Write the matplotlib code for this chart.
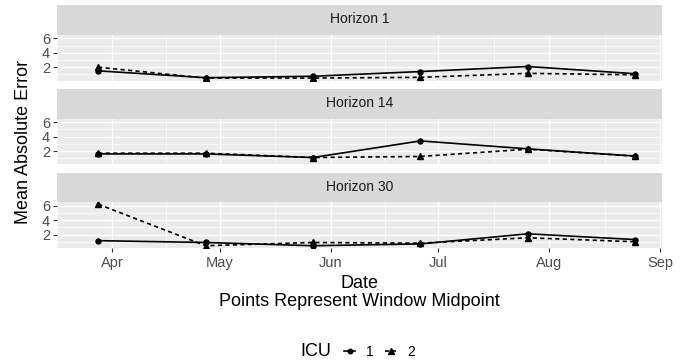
import matplotlib
matplotlib.use("Agg")
import matplotlib.pyplot as plt
import matplotlib.dates as mdates
import numpy as np
import datetime as dt

plt.rcParams['font.family'] = ['Liberation Sans', 'DejaVu Sans']

# ---- data ----
dates = ["2020-03-28", "2020-04-27", "2020-05-27", "2020-06-26", "2020-07-26", "2020-08-25"]
horizons = ["Horizon 1", "Horizon 14", "Horizon 30"]
icu1_h1 = [1.5, 0.55, 0.75, 1.4, 2.1, 1.1]
icu2_h1 = [2.0, 0.5, 0.5, 0.6, 1.15, 0.95]
icu1_h14 = [1.6, 1.6, 1.1, 3.4, 2.3, 1.3]
icu2_h14 = [1.7, 1.7, 1.1, 1.25, 2.25, 1.3]
icu1_h30 = [1.15, 0.9, 0.45, 0.7, 2.1, 1.3]
icu2_h30 = [6.2, 0.45, 0.9, 0.8, 1.55, 1.0]
icu_labels = ["1", "2"]
y_ticks = [2, 4, 6]

series = [(icu1_h1, icu2_h1), (icu1_h14, icu2_h14), (icu1_h30, icu2_h30)]
x = [dt.datetime.strptime(d, "%Y-%m-%d") for d in dates]

W, H = 686, 364
fig = plt.figure(figsize=(W / 100, H / 100), dpi=100)
fig.patch.set_facecolor("white")

def fr(x0, y0, x1, y1):
    return [x0 / W, 1 - y1 / H, (x1 - x0) / W, (y1 - y0) / H]

# shared limits (ggplot 5% expansion)
allv = np.concatenate([np.array(s) for pair in series for s in pair])
ymin, ymax = allv.min(), allv.max()
yr = ymax - ymin
ylim = (ymin - 0.05 * yr, ymax + 0.05 * yr)
xn = mdates.date2num(x)
xr = xn.max() - xn.min()
xlim = (xn.min() - 0.05 * xr, xn.max() + 0.05 * xr)

panel_left, panel_right = 57, 662
panel_tops = [34.8, 118.6, 202.1]
panel_h = 45.7
strip_h = 29.5

major_months = mdates.MonthLocator()
minor_dates = []
months = [dt.datetime(2020, m, 1) for m in range(3, 10)]
for a, b in zip(months[:-1], months[1:]):
    minor_dates.append(mdates.date2num(a) + (mdates.date2num(b) - mdates.date2num(a)) / 2)

lines_for_legend = None
for i, (name, (s1, s2)) in enumerate(zip(horizons, series)):
    top = panel_tops[i]
    # strip
    sax = fig.add_axes(fr(panel_left, top - strip_h, panel_right, top))
    sax.set_facecolor("#D9D9D9")
    sax.set_xticks([]); sax.set_yticks([])
    for sp in sax.spines.values():
        sp.set_visible(False)
    sax.text(0.5, 0.52, name, ha="center", va="center", fontsize=10, color="#1A1A1A",
             transform=sax.transAxes)

    ax = fig.add_axes(fr(panel_left, top, panel_right, top + panel_h))
    ax.set_facecolor("#EBEBEB")
    for sp in ax.spines.values():
        sp.set_visible(False)
    ax.set_xlim(xlim)
    ax.set_ylim(ylim)
    ax.set_yticks(y_ticks)
    ax.set_yticks([1, 3, 5], minor=True)
    ax.xaxis.set_major_locator(major_months)
    ax.xaxis.set_major_formatter(mdates.DateFormatter("%b"))
    ax.set_xticks(minor_dates, minor=True)
    ax.grid(which="major", color="white", linewidth=1.0)
    ax.grid(which="minor", color="white", linewidth=0.5)
    ax.set_axisbelow(True)
    ax.tick_params(axis="y", which="major", length=3, width=0.8, color="#333333",
                   labelsize=10.5, labelcolor="#4D4D4D", pad=2)
    ax.tick_params(axis="both", which="minor", length=0)
    if i < 2:
        ax.tick_params(axis="x", which="major", length=0, labelbottom=False)
    else:
        ax.tick_params(axis="x", which="major", length=3, width=0.8, color="#333333",
                       labelsize=10.5, labelcolor="#4D4D4D", pad=3)
    l1, = ax.plot(x, s1, color="black", linestyle="-", linewidth=1.2,
                  marker="o", markersize=3.6, label=icu_labels[0])
    l2, = ax.plot(x, s2, color="black", linestyle=(0, (2.5, 2)), linewidth=1.2,
                  marker="^", markersize=4.3, label=icu_labels[1])
    lines_for_legend = (l1, l2)

# axis titles
fig.text(24 / W, 1 - 142 / H, "Mean Absolute Error", rotation=90, ha="center", va="center",
         fontsize=13, color="black")
fig.text(359 / W, 1 - 283 / H, "Date", ha="center", va="center", fontsize=13, color="black")
fig.text(359 / W, 1 - 301 / H, "Points Represent Window Midpoint", ha="center", va="center",
         fontsize=13, color="black")

# legend
fig.text(316 / W, 1 - 352 / H, "ICU", ha="center", va="center", fontsize=13, color="black")
leg = fig.legend(handles=list(lines_for_legend), labels=icu_labels, ncol=2,
                 loc="center left", bbox_to_anchor=(344 / W, 1 - 352 / H),
                 frameon=False, fontsize=10, handlelength=0.8, handletextpad=0.8,
                 columnspacing=0.8, borderpad=0.0, borderaxespad=0.0, markerscale=0.9)

fig.savefig("out.png", dpi=100)
